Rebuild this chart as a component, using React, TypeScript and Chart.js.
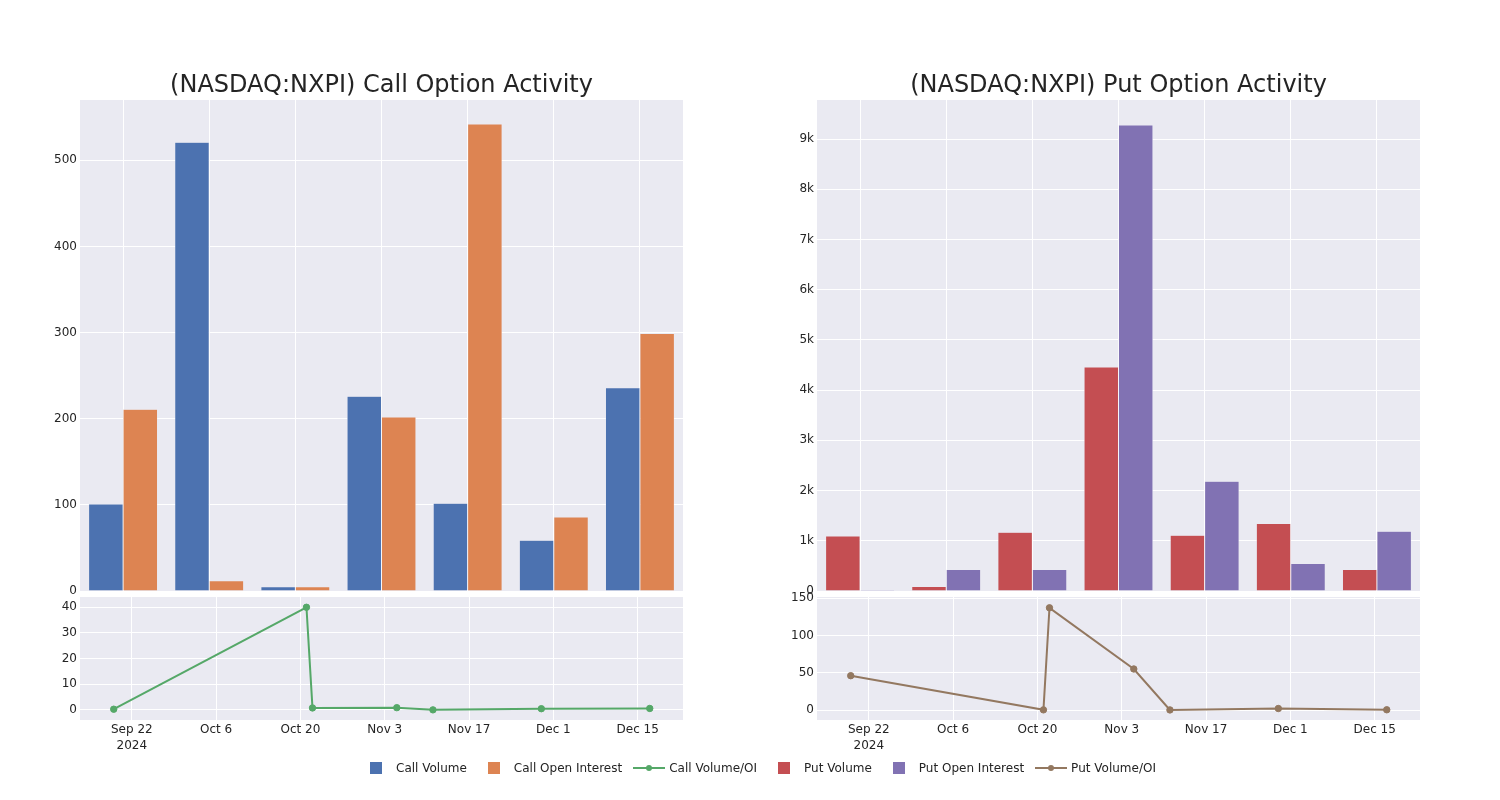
import React, { useEffect, useRef } from "react";
import { Chart, registerables } from "chart.js";

Chart.register(...registerables);

const FONT = "'DejaVu Sans', Verdana, sans-serif";
const TEXT = "rgb(36,36,36)";
const BG = "#EAEAF2";

const BLUE = "#4C72B0";
const ORANGE = "#DD8452";
const GREEN = "#55A868";
const RED = "#C44E52";
const PURPLE = "#8172B3";
const BROWN = "#937860";

// Bar bins (hidden category labels)
const BAR_BINS = ["Sep 20", "Oct 4", "Oct 18", "Nov 1", "Nov 15", "Nov 29", "Dec 13"];
const CALL_VOLUME = [101, 521, 5, 226, 102, 59, 236];
const CALL_OPEN_INTEREST = [211, 12, 5, 202, 542, 86, 299];
const PUT_VOLUME = [1095, 88, 1170, 4460, 1110, 1343, 426];
const PUT_OPEN_INTEREST = [20, 426, 426, 9280, 2186, 546, 1190];

// Volume / OI line series
const LINE_DATES = ["2024-09-19", "2024-10-21", "2024-10-22", "2024-11-05", "2024-11-11", "2024-11-29", "2024-12-17"];
const CALL_VOL_OI = [0.3, 40, 0.8, 0.9, 0.05, 0.5, 0.6];
const PUT_VOL_OI = [46, 0.2, 137, 55, 0.1, 2, 0.3];

// Y ticks
const CALL_BAR_TICKS = [0, 100, 200, 300, 400, 500];
const PUT_BAR_TICKS = [0, 1000, 2000, 3000, 4000, 5000, 6000, 7000, 8000, 9000];
const CALL_RATIO_TICKS = [0, 10, 20, 30, 40];
const PUT_RATIO_TICKS = [0, 50, 100, 150];

// Time axis
const BASE_DATE = "2024-09-22";
const X_TICK_DATES = ["2024-09-22", "2024-10-06", "2024-10-20", "2024-11-03", "2024-11-17", "2024-12-01", "2024-12-15"];
const X_TICK_LABELS: (string | string[])[] = [["Sep 22", "2024"], "Oct 6", "Oct 20", "Nov 3", "Nov 17", "Dec 1", "Dec 15"];
const X_MIN = -8.6;
const X_MAX = 91.52;

const dayOffset = (d: string) => (Date.parse(d) - Date.parse(BASE_DATE)) / 86400000;

const bgPlugin = {
  id: "plotBg",
  beforeDraw(chart: any) {
    const { ctx, chartArea: a } = chart;
    ctx.save();
    ctx.fillStyle = BG;
    ctx.fillRect(a.left, a.top, a.right - a.left, a.bottom - a.top);
    ctx.restore();
  },
};

const tickFont = { family: FONT, size: 12 };

function yScale(min: number, max: number, ticks: number[], fmt: (v: number) => string): any {
  return {
    type: "linear",
    min,
    max,
    afterBuildTicks: (s: any) => { s.ticks = ticks.map((v) => ({ value: v })); },
    grid: { color: "#ffffff", lineWidth: 1, drawTicks: false },
    border: { display: false },
    ticks: { padding: 3, color: TEXT, font: tickFont, callback: (v: any) => fmt(Number(v)) },
    afterFit: (s: any) => { s.width = 40; },
  };
}

function barConfig(
  a: number[], b: number[], colA: string, colB: string, nameA: string, nameB: string,
  yMax: number, ticks: number[], fmt: (v: number) => string, padLeft: number, padRight: number
): any {
  return {
    type: "bar",
    data: {
      labels: BAR_BINS,
      datasets: [
        { label: nameA, data: a, backgroundColor: colA, borderColor: BG, borderWidth: 0.5, categoryPercentage: 0.8, barPercentage: 1 },
        { label: nameB, data: b, backgroundColor: colB, borderColor: BG, borderWidth: 0.5, categoryPercentage: 0.8, barPercentage: 1 },
      ],
    },
    options: {
      responsive: false,
      animation: false,
      layout: { padding: { top: 100, bottom: 209, left: padLeft, right: padRight } },
      plugins: { legend: { display: false }, tooltip: { enabled: false }, title: { display: false } },
      scales: {
        x: {
          type: "category",
          offset: true,
          grid: { offset: false, color: "#ffffff", lineWidth: 1, drawTicks: false },
          border: { display: false },
          ticks: { display: false },
          afterFit: (s: any) => { s.height = 0; },
        },
        y: yScale(0, yMax, ticks, fmt),
      },
    },
    plugins: [bgPlugin],
  };
}

function lineConfig(
  values: number[], color: string, name: string, yMin: number, yMax: number, ticks: number[],
  padLeft: number, padRight: number
): any {
  return {
    type: "line",
    data: {
      datasets: [
        {
          label: name,
          data: LINE_DATES.map((d, i) => ({ x: dayOffset(d), y: values[i] })),
          borderColor: color,
          backgroundColor: color,
          borderWidth: 2,
          pointRadius: 3.2,
          pointBorderWidth: 1,
          pointBackgroundColor: color,
          pointBorderColor: color,
          tension: 0,
          fill: false,
        },
      ],
    },
    options: {
      responsive: false,
      animation: false,
      layout: { padding: { top: 597, bottom: 40, left: padLeft, right: padRight } },
      plugins: { legend: { display: false }, tooltip: { enabled: false } },
      scales: {
        x: {
          type: "linear",
          min: X_MIN,
          max: X_MAX,
          afterBuildTicks: (s: any) => { s.ticks = X_TICK_DATES.map((d) => ({ value: dayOffset(d) })); },
          grid: { color: "#ffffff", lineWidth: 1, drawTicks: false },
          border: { display: false },
          ticks: {
            autoSkip: false,
            maxRotation: 0,
            minRotation: 0,
            padding: 2,
            color: TEXT,
            font: { family: FONT, size: 12, lineHeight: 1.35 },
            callback: (_v: any, i: number) => X_TICK_LABELS[i],
          },
          afterFit: (s: any) => { s.height = 40; },
        },
        y: yScale(yMin, yMax, ticks, (v) => `${v}`),
      },
    },
    plugins: [bgPlugin],
  };
}

const kFmt = (v: number) => (v === 0 ? "0" : `${v / 1000}k`);
const plainFmt = (v: number) => `${v}`;

type LegendItem = { label: string; color: string; kind: "box" | "line" };
const LEGEND: LegendItem[] = [
  { label: "Call Volume", color: BLUE, kind: "box" },
  { label: "Call Open Interest", color: ORANGE, kind: "box" },
  { label: "Call Volume/OI", color: GREEN, kind: "line" },
  { label: "Put Volume", color: RED, kind: "box" },
  { label: "Put Open Interest", color: PURPLE, kind: "box" },
  { label: "Put Volume/OI", color: BROWN, kind: "line" },
];

export default function App() {
  const c1 = useRef<HTMLCanvasElement>(null);
  const c2 = useRef<HTMLCanvasElement>(null);
  const c3 = useRef<HTMLCanvasElement>(null);
  const c4 = useRef<HTMLCanvasElement>(null);

  useEffect(() => {
    const charts = [
      new Chart(c1.current!, barConfig(CALL_VOLUME, CALL_OPEN_INTEREST, BLUE, ORANGE, "Call Volume", "Call Open Interest", 570, CALL_BAR_TICKS, plainFmt, 40, 817)),
      new Chart(c2.current!, lineConfig(CALL_VOL_OI, GREEN, "Call Volume/OI", -3.9, 44, CALL_RATIO_TICKS, 40, 817)),
      new Chart(c3.current!, barConfig(PUT_VOLUME, PUT_OPEN_INTEREST, RED, PURPLE, "Put Volume", "Put Open Interest", 9777, PUT_BAR_TICKS, kFmt, 777, 80)),
      new Chart(c4.current!, lineConfig(PUT_VOL_OI, BROWN, "Put Volume/OI", -13.4, 151.5, PUT_RATIO_TICKS, 777, 80)),
    ];
    return () => charts.forEach((c) => c.destroy());
  }, []);

  const canvasStyle: React.CSSProperties = { position: "absolute", left: 0, top: 0 };
  const titleStyle = (left: number): React.CSSProperties => ({
    position: "absolute",
    left,
    top: 70,
    width: 603,
    textAlign: "center",
    fontSize: 24,
    lineHeight: "28px",
    color: TEXT,
    whiteSpace: "nowrap",
  });

  return (
    <div style={{ position: "absolute", left: 0, top: 0, width: 1500, height: 800, background: "#fff", fontFamily: FONT, overflow: "hidden" }}>
      <canvas ref={c1} width={1500} height={800} style={canvasStyle} />
      <canvas ref={c2} width={1500} height={800} style={canvasStyle} />
      <canvas ref={c3} width={1500} height={800} style={canvasStyle} />
      <canvas ref={c4} width={1500} height={800} style={canvasStyle} />
      <div style={titleStyle(80)}>(NASDAQ:NXPI) Call Option Activity</div>
      <div style={titleStyle(817)}>(NASDAQ:NXPI) Put Option Activity</div>
      <div style={{ position: "absolute", left: 356, top: 760, height: 16, display: "flex", alignItems: "center", fontSize: 12, color: TEXT }}>
        {LEGEND.map((it) => (
          <div key={it.label} style={{ display: "flex", alignItems: "center", marginRight: 7 }}>
            <div style={{ position: "relative", width: 40, height: 16 }}>
              {it.kind === "box" ? (
                <div style={{ position: "absolute", left: 14, top: 2, width: 12, height: 12, background: it.color }} />
              ) : (
                <>
                  <div style={{ position: "absolute", left: 4, top: 7, width: 32, height: 2, background: it.color }} />
                  <div style={{ position: "absolute", left: 17, top: 5, width: 6, height: 6, borderRadius: 3, background: it.color }} />
                </>
              )}
            </div>
            <span style={{ whiteSpace: "nowrap", lineHeight: "16px" }}>{it.label}</span>
          </div>
        ))}
      </div>
    </div>
  );
}
